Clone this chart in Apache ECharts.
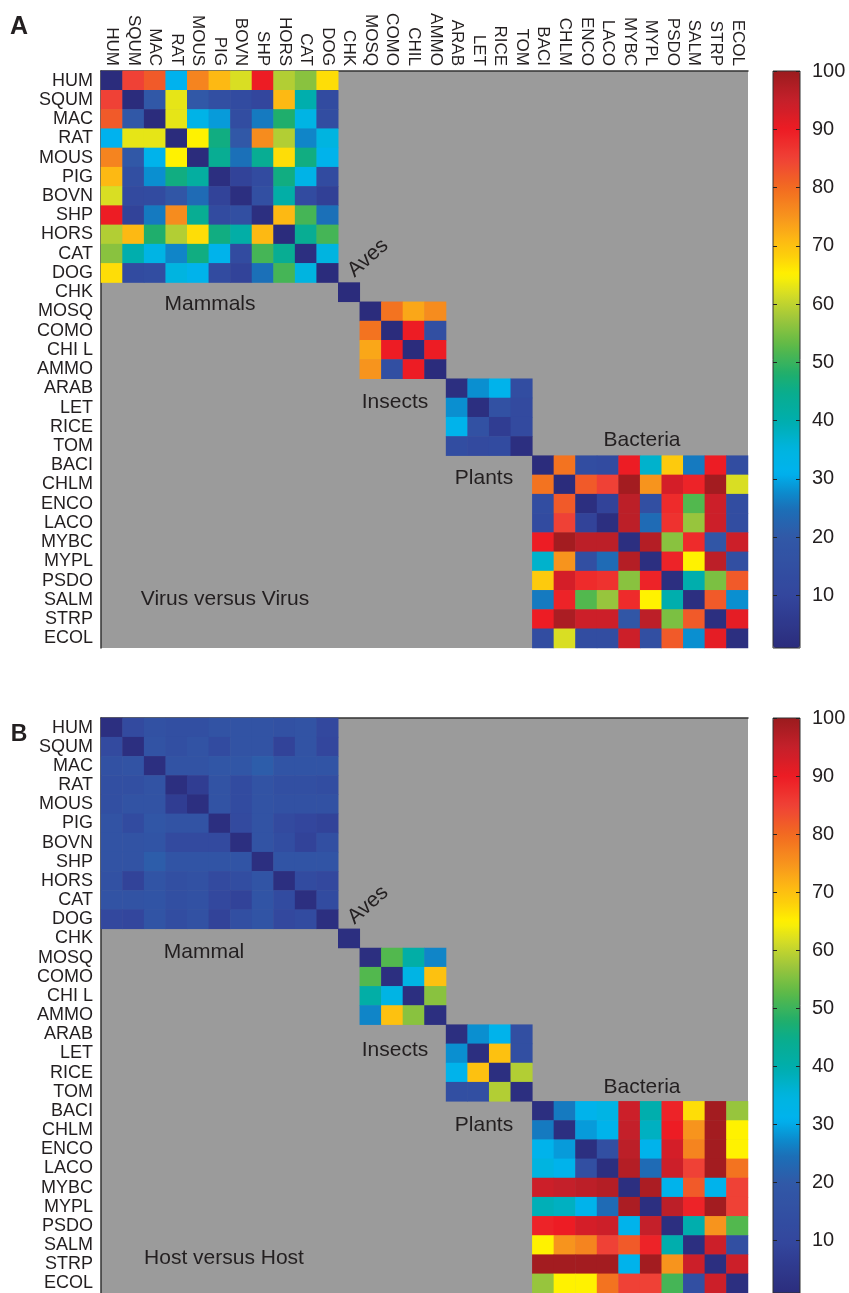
<!DOCTYPE html>
<html><head><meta charset="utf-8">
<script src="https://cdn.jsdelivr.net/npm/echarts@6/dist/echarts.min.js"></script>
<style>html,body{margin:0;padding:0;background:#fff}#c{width:849px;height:1293px}</style>
</head><body><div id="c"></div>
<script>
const rowLabels = ['HUM','SQUM','MAC','RAT','MOUS','PIG','BOVN','SHP','HORS','CAT','DOG','CHK','MOSQ','COMO','CHI L','AMMO','ARAB','LET','RICE','TOM','BACI','CHLM','ENCO','LACO','MYBC','MYPL','PSDO','SALM','STRP','ECOL'];
const colLabels = ['HUM','SQUM','MAC','RAT','MOUS','PIG','BOVN','SHP','HORS','CAT','DOG','CHK','MOSQ','COMO','CHIL','AMMO','ARAB','LET','RICE','TOM','BACI','CHLM','ENCO','LACO','MYBC','MYPL','PSDO','SALM','STRP','ECOL'];
const blockStarts = [0, 11, 12, 16, 20];
const colorTicks = [10,20,30,40,50,60,70,80,90,100];

// Panel A: Virus versus Virus
const mammalsA = [
 [1,85,82,31,77,71,62,90,59,56,67],
 [85,1,20,63,20,15,13,10,71,40,13],
 [82,20,1,63,33,29,14,26,48,34,14],
 [31,63,63,1,65,46,20,76,59,27,35],
 [77,20,32,65,1,44,25,44,67,46,32],
 [71,15,28,46,42,2,9,13,46,33,13],
 [62,12,13,19,24,9,2,15,41,13,8],
 [90,9,26,76,44,13,15,2,71,51,25],
 [59,71,48,59,67,46,41,71,1,44,51],
 [56,40,34,27,46,32,13,51,44,2,35],
 [67,13,14,35,32,13,9,25,51,35,1]
];
const avesA = [[1]];
const insectsA = [
 [1,79,73,76],
 [79,1,90,15],
 [73,90,1,90],
 [75,15,90,1]
];
const plantsA = [
 [2,28,32,14],
 [28,2,16,12],
 [32,16,7,12],
 [14,12,13,2]
];
const bacteriaA = [
 [1,79,14,13,90,37,69,26,90,14],
 [79,1,82,85,99,75,93,89,99,62],
 [14,82,2,9,96,15,88,52,94,14],
 [13,85,9,2,96,24,87,57,94,14],
 [90,99,96,96,2,97,56,88,19,94],
 [37,75,15,24,97,2,89,65,96,15],
 [69,93,88,87,56,89,2,40,55,82],
 [26,89,52,57,88,65,40,2,82,28],
 [90,98,94,94,19,96,55,82,2,91],
 [14,62,14,14,94,15,82,28,91,2]
];

// Panel B: Host versus Host
const mammalsB = [
 [2,12,16,15,15,17,17,17,16,17,11],
 [12,2,17,15,17,13,17,17,9,17,10],
 [16,17,2,17,17,19,19,21,18,18,18],
 [15,15,17,2,7,17,13,17,15,15,14],
 [15,17,17,7,2,17,13,17,16,16,16],
 [17,13,19,17,17,2,12,17,12,10,9],
 [17,17,18,12,12,12,2,17,14,9,15],
 [17,17,21,18,18,18,18,2,18,18,18],
 [16,9,18,15,16,12,14,18,2,13,11],
 [17,17,18,15,16,11,9,18,13,2,13],
 [11,10,18,14,16,9,15,18,11,13,2]
];
const avesB = [[2]];
const insectsB = [
 [2,52,41,27],
 [52,2,34,70],
 [41,34,2,56],
 [27,70,56,2]
];
const plantsB = [
 [2,28,32,15],
 [28,2,70,15],
 [32,70,2,59],
 [15,15,59,2]
];
const bacteriaB = [
 [2,26,32,34,94,40,89,67,99,57],
 [26,2,29,32,95,38,90,75,99,65],
 [32,29,2,15,96,32,93,77,99,65],
 [35,32,15,2,97,24,94,85,99,79],
 [94,95,96,97,2,98,32,82,32,85],
 [39,38,32,24,98,2,96,89,99,85],
 [89,90,93,94,32,95,2,40,75,52],
 [65,75,77,85,82,89,40,2,94,15],
 [99,99,99,99,32,99,75,94,2,94],
 [57,65,65,79,85,85,51,15,94,2]
];

function buildData(blocks){
  const d = [];
  blocks.forEach((b,k)=>{
    const o = blockStarts[k];
    b.forEach((row,i)=>row.forEach((v,j)=>d.push([o+j, o+i, v])));
  });
  return d;
}

// colormap (style)
const anchors = [
 [1,'#2b2c7c'],[10,'#33469d'],[20,'#3158a7'],[25,'#1b70b8'],[28,'#0a8fd0'],[31,'#00b2ee'],[35,'#00b4e0'],
 [40,'#00aead'],[45,'#0aad8c'],[48,'#1fae6c'],[53,'#5fba47'],[58,'#a5c83a'],[62,'#d9de23'],[65,'#fff200'],
 [68,'#fdd20a'],[71,'#fdb913'],[75,'#f7941d'],[80,'#f26b21'],[85,'#ef4136'],[90,'#ed1c24'],[95,'#c4202a'],[100,'#9b1b1e']
];
function hex2rgb(h){return [parseInt(h.substr(1,2),16),parseInt(h.substr(3,2),16),parseInt(h.substr(5,2),16)];}
const cmap = [];
for (let v = 1; v <= 100; v++) {
  let k = 0;
  while (k < anchors.length-2 && anchors[k+1][0] < v) k++;
  const [v0,c0] = anchors[k], [v1,c1] = anchors[k+1];
  const t = Math.max(0, Math.min(1, (v - v0) / (v1 - v0)));
  const a = hex2rgb(c0), b = hex2rgb(c1);
  cmap.push('rgb(' + a.map((x,i)=>Math.round(x + (b[i]-x)*t)).join(',') + ')');
}

const FONT = '"Liberation Sans", Arial, Helvetica, sans-serif';
const TXT = '#231f20';
const GRAY = '#9b9b9b';
const panels = [{top:71, colLabels:true}, {top:718, colLabels:false}];
const H = 577;

const grid = [], xAxis = [], yAxis = [], series = [], visualMap = [];
panels.forEach((p, idx) => {
  grid.push({left:101, top:p.top, width:647, height:H, show:true, backgroundColor:GRAY, borderWidth:0});
  xAxis.push({type:'category', gridIndex:grid.length-1, data:colLabels, position:'top',
    axisLine:{show:true, lineStyle:{color:'#333', width:1.5}}, axisTick:{show:false},
    axisLabel:{show:p.colLabels, rotate:90, interval:0, margin:5, fontSize:17, color:TXT, fontFamily:FONT},
    splitLine:{show:false}});
  yAxis.push({type:'category', gridIndex:grid.length-1, data:rowLabels, inverse:true,
    axisLine:{show:true, lineStyle:{color:'#333', width:1.5}}, axisTick:{show:false},
    axisLabel:{interval:0, margin:8, fontSize:18, color:TXT, fontFamily:FONT},
    splitLine:{show:false}});
  series.push({type:'heatmap', xAxisIndex:xAxis.length-1, yAxisIndex:yAxis.length-1,
    data: idx === 0 ? buildData([mammalsA, avesA, insectsA, plantsA, bacteriaA])
                    : buildData([mammalsB, avesB, insectsB, plantsB, bacteriaB]),
    itemStyle:{borderWidth:0}, emphasis:{disabled:true}, progressive:0, animation:false});
  visualMap.push({type:'continuous', min:1, max:100, seriesIndex:idx, orient:'vertical', z:1, align:'right',
    left:773, top:p.top, itemWidth:27, itemHeight:H, padding:0, calculable:false, hoverLink:false,
    inRange:{color:cmap}, textStyle:{color:'rgba(0,0,0,0)'}, text:['','']});
});
// colorbar tick axes
panels.forEach((p) => {
  grid.push({left:773, top:p.top, width:27, height:H, show:true, z:20, backgroundColor:'rgba(0,0,0,0)', borderColor:'#333', borderWidth:1});
  const gi = grid.length-1;
  xAxis.push({type:'value', gridIndex:gi, min:0, max:1, show:false});
  yAxis.push({type:'value', gridIndex:gi, min:1, max:100, position:'right', z:21,
    axisLine:{show:false, onZero:false}, splitLine:{show:false},
    axisTick:{show:true, inside:true, length:4, customValues:colorTicks, lineStyle:{color:'#222', width:1}},
    axisLabel:{show:true, customValues:colorTicks, margin:12, fontSize:20, color:TXT, fontFamily:FONT}});
  yAxis.push({type:'value', gridIndex:gi, min:1, max:100, position:'left', z:21,
    axisLine:{show:false, onZero:false}, splitLine:{show:false},
    axisTick:{show:true, inside:true, length:4, customValues:colorTicks, lineStyle:{color:'#222', width:1}},
    axisLabel:{show:false}});
});

function label(text, x, y, size, opts) {
  return Object.assign({type:'text', x:x, y:y, z:100,
    style:{text:text, fontSize:size, fontFamily:FONT, fill:TXT, align:'center', verticalAlign:'middle'}}, opts||{});
}
const graphic = [
  label('A', 19, 27, 24, {style:{text:'A', fontSize:25, fontWeight:'bold', fontFamily:FONT, fill:TXT, align:'center', verticalAlign:'middle'}}),
  label('Mammals', 210, 304, 21),
  label('Aves', 368, 258, 21, {rotation:0.72}),
  label('Insects', 395, 402, 21),
  label('Plants', 484, 478, 21),
  label('Bacteria', 642, 440, 21),
  label('Virus versus Virus', 225, 599, 21),
  label('B', 19, 735, 23, {style:{text:'B', fontSize:23, fontWeight:'bold', fontFamily:FONT, fill:TXT, align:'center', verticalAlign:'middle'}}),
  label('Mammal', 204, 952, 21),
  label('Aves', 368, 905, 21, {rotation:0.72}),
  label('Insects', 395, 1050, 21),
  label('Plants', 484, 1125, 21),
  label('Bacteria', 642, 1087, 21),
  label('Host versus Host', 224, 1258, 21)
];

const chart = echarts.init(document.getElementById('c'), null, {renderer:'canvas'});
chart.setOption({animation:false, backgroundColor:'#fff', grid, xAxis, yAxis, series, visualMap, graphic});
</script></body></html>
